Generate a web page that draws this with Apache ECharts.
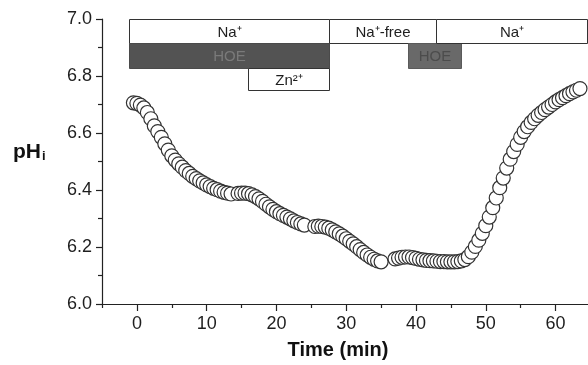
<!DOCTYPE html>
<html><head><meta charset="utf-8">
<script src="https://cdn.jsdelivr.net/npm/echarts@6/dist/echarts.min.js"></script>
<style>html,body{margin:0;padding:0;background:#fff}#c{width:588px;height:365px}</style>
</head><body><div id="c"></div>
<script>
// time (min) and intracellular pH readings
const timeMin = [
  -0.5,0,0.5,1,1.5,2,2.5,3,3.5,4,4.5,5,5.5,6,6.5,7,7.5,8,8.5,9,9.5,10,10.5,11,11.5,12,12.5,13,13.5,
  14.5,15,15.5,16,16.5,17,17.5,18,18.5,19,19.5,20,20.5,21,21.5,22,22.5,23,23.5,24,
  25.5,26,26.5,27,27.5,28,28.5,29,29.5,30,30.5,31,31.5,32,32.5,33,33.5,34,34.5,35,
  37,37.5,38,38.5,39,39.5,40,40.5,41,41.5,42,42.5,43,43.5,44,44.5,45,45.5,46,46.5,47,47.5,48,48.5,
  49,49.5,50,50.5,51,51.5,52,52.5,53,53.5,54,54.5,55,55.5,56,56.5,57,57.5,58,58.5,59,59.5,60,60.5,
  61,61.5,62,62.5,63,63.5
];
const phValues = [
  6.706,6.704,6.698,6.688,6.672,6.650,6.625,6.605,6.585,6.562,6.540,6.520,6.505,6.492,6.480,6.468,6.458,6.448,6.440,6.432,6.425,6.418,6.412,6.406,6.401,6.396,6.392,6.389,6.386,
  6.388,6.389,6.389,6.387,6.383,6.377,6.369,6.360,6.350,6.341,6.332,6.324,6.317,6.311,6.305,6.299,6.292,6.286,6.281,6.277,
  6.272,6.273,6.272,6.270,6.266,6.260,6.253,6.246,6.238,6.229,6.220,6.211,6.201,6.191,6.181,6.172,6.164,6.157,6.151,6.148,
  6.158,6.161,6.164,6.165,6.165,6.163,6.160,6.157,6.155,6.153,6.152,6.151,6.150,6.149,6.149,6.148,6.148,6.148,6.149,6.151,6.156,6.166,6.182,6.202,
  6.224,6.248,6.275,6.305,6.338,6.372,6.408,6.442,6.477,6.508,6.535,6.560,6.585,6.605,6.622,6.637,6.650,6.662,6.672,6.682,6.691,6.700,6.709,6.717,
  6.724,6.731,6.738,6.744,6.750,6.756
];
const xTickLabels = [0, 10, 20, 30, 40, 50, 60];
const xMinorTicks = [-5, 5, 15, 25, 35, 45, 55];
// treatment bars
const barLabels = ['Na\u207A', 'HOE', 'Zn\u00B2\u207A', 'Na\u207A-free', 'HOE', 'Na\u207A'];
const barStart  = [-1.15, -1.15, 15.9, 27.5, 38.8, 42.9];
const barEnd    = [27.5, 27.5, 27.5, 42.9, 46.5, 64.5];
const barRow    = [0, 1, 2, 0, 1, 0];
const barKind   = ['solution', 'drug', 'solution', 'solution', 'drug2', 'solution'];

const rowEdges = [7.0, 6.917, 6.829, 6.751];
const kindStyle = {
  solution: {fill: '#ffffff', stroke: '#333333', text: '#1e1e1e'},
  drug:     {fill: '#535353', stroke: '#4a4a4a', text: '#7a7a7a'},
  drug2:    {fill: '#696969', stroke: '#5a5a5a', text: '#4c4c4c'}
};
const FONT = '"Liberation Sans", Arial, Helvetica, sans-serif';

const chart = echarts.init(document.getElementById('c'), null, {renderer: 'canvas'});
chart.setOption({
  animation: false,
  backgroundColor: '#ffffff',
  grid: {left: 102, right: 0, top: 19, bottom: 61, containLabel: false},
  xAxis: [{
    type: 'value', min: -5, max: 64.65, position: 'bottom',
    axisLine: {show: true, onZero: false, lineStyle: {color: '#222', width: 1.2}},
    axisTick: {show: true, length: 7, customValues: xTickLabels, lineStyle: {color: '#222', width: 1.2}},
    axisLabel: {show: true, customValues: xTickLabels, fontSize: 18, color: '#1e1e1e', margin: 11, fontFamily: FONT},
    splitLine: {show: false},
    name: 'Time (min)', nameLocation: 'middle', nameGap: 36,
    nameTextStyle: {fontSize: 20, fontWeight: 'bold', color: '#111', fontFamily: FONT, padding: [0, 14, 0, 0]}
  }, {
    type: 'value', min: -5, max: 64.65, position: 'bottom', offset: 0,
    axisLine: {show: false, onZero: false},
    axisTick: {show: true, length: 4, customValues: xMinorTicks, lineStyle: {color: '#222', width: 1.2}},
    axisLabel: {show: false},
    splitLine: {show: false}
  }],
  yAxis: {
    type: 'value', min: 6.0, max: 7.0, interval: 0.2, position: 'left',
    axisLine: {show: true, onZero: false, lineStyle: {color: '#222', width: 1.2}},
    axisTick: {show: true, inside: false, length: 6, lineStyle: {color: '#222', width: 1.2}},
    minorTick: {show: true, splitNumber: 2, length: 4, lineStyle: {color: '#222', width: 1.2}},
    axisLabel: {fontSize: 18, color: '#1e1e1e', margin: 10, fontFamily: FONT, formatter: v => v.toFixed(1)},
    splitLine: {show: false}, minorSplitLine: {show: false}
  },
  graphic: [{
    type: 'text', left: 13, top: 142,
    style: {
      text: '{a|pH}{b|i}',
      rich: {
        a: {fontSize: 21, fontWeight: 'bold', fontFamily: FONT, fill: '#111'},
        b: {fontSize: 13, fontWeight: 'bold', fontFamily: FONT, fill: '#111', padding: [8, 0, 0, 1]}
      }
    }
  }],
  series: [{
    type: 'scatter',
    xAxisIndex: 0,
    data: timeMin.map((t, i) => [t, phValues[i]]),
    symbol: 'circle', symbolSize: 14,
    itemStyle: {color: '#ffffff', borderColor: '#333333', borderWidth: 1.2, opacity: 1},
    emphasis: {disabled: true},
    clip: false, z: 3
  }, {
    type: 'custom',
    xAxisIndex: 0,
    clip: false, z: 4,
    data: barStart.map((s, i) => [s, barEnd[i], barRow[i]]),
    renderItem: function (params, api) {
      const i = params.dataIndex;
      const r = api.value(2);
      const p0 = api.coord([api.value(0), rowEdges[r]]);
      const p1 = api.coord([api.value(1), rowEdges[r + 1]]);
      const st = kindStyle[barKind[i]];
      const x0 = Math.round(p0[0]) + 0.5, y0 = Math.round(p0[1]) + 0.5;
      const x1 = Math.round(p1[0]) + 0.5, y1 = Math.round(p1[1]) + 0.5;
      return {
        type: 'group',
        children: [{
          type: 'rect',
          shape: {x: x0, y: y0, width: x1 - x0, height: y1 - y0},
          style: {fill: st.fill, stroke: st.stroke, lineWidth: 1}
        }, {
          type: 'text',
          style: {
            text: barLabels[i], x: (x0 + x1) / 2, y: (y0 + y1) / 2 + 1,
            align: 'center', verticalAlign: 'middle',
            fill: st.text, fontSize: 15, fontFamily: FONT
          }
        }]
      };
    }
  }]
});
</script>
</body></html>
